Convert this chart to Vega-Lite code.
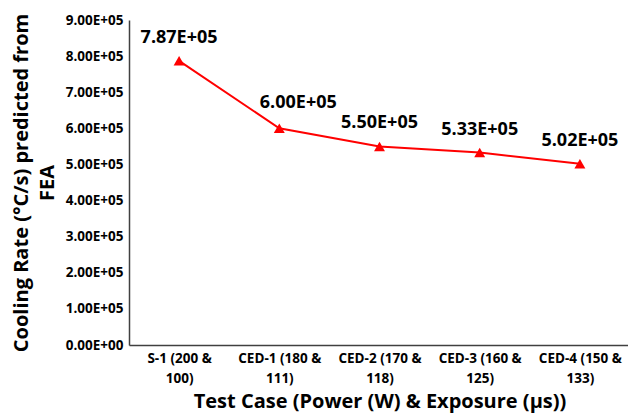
{
  "$schema": "https://vega.github.io/schema/vega-lite/v6.json",
  "width": 501,
  "height": 325,
  "autosize": {"type": "none"},
  "padding": {"left": 129, "top": 20, "right": 0, "bottom": 68},
  "background": "white",
  "config": {
    "view": {"stroke": null},
    "font": "Open Sans",
    "axis": {"grid": false, "domainColor": "#404040", "domainWidth": 1.5, "ticks": false,
      "labelFont": "Open Sans", "labelFontWeight": "bold", "labelColor": "black",
      "titleFont": "Open Sans", "titleFontWeight": "bold", "titleColor": "black"}
  },
  "data": {"values": [
    {"case": "S-1 (200 & 100)", "rate": 787000},
    {"case": "CED-1 (180 & 111)", "rate": 600000},
    {"case": "CED-2 (170 & 118)", "rate": 550000},
    {"case": "CED-3 (160 & 125)", "rate": 533000},
    {"case": "CED-4 (150 & 133)", "rate": 502000}
  ]},
  "transform": [
    {"calculate": "replace(upper(format(datum.rate, '.2e')), 'E+', 'E+0')", "as": "lbl"}
  ],
  "encoding": {
    "x": {"field": "case", "type": "ordinal", "sort": null,
      "axis": {"title": "Test Case (Power (W) & Exposure (µs))", "titleFontSize": 20, "titlePadding": 7,
        "labelAngle": 0, "labelFontSize": 13.5, "labelPadding": 6, "labelLineHeight": 20,
        "labelExpr": "split(replace(datum.label, '& ', '&|'), '|')"}},
    "y": {"field": "rate", "type": "quantitative",
      "scale": {"domain": [0, 900000]},
      "axis": {"title": ["Cooling Rate (°C/s) predicted from", "FEA"], "titleFontSize": 20, "titleLineHeight": 26,
        "titlePadding": 8, "values": [0, 100000, 200000, 300000, 400000, 500000, 600000, 700000, 800000, 900000],
        "labelFontSize": 13.5, "labelPadding": 6,
        "labelExpr": "replace(upper(format(datum.value, '.2e')), 'E+', 'E+0')"}}
  },
  "layer": [
    {"mark": {"type": "line", "color": "#FF0000", "strokeWidth": 2}},
    {"mark": {"type": "point", "shape": "triangle-up", "filled": true, "color": "#FF0000", "size": 120, "opacity": 1}},
    {"transform": [{"filter": "datum.case != 'CED-1 (180 & 111)'"}],
      "mark": {"type": "text", "dy": -23, "fontSize": 18, "fontWeight": "bold", "color": "black", "font": "Open Sans"},
      "encoding": {"text": {"field": "lbl"}}},
    {"transform": [{"filter": "datum.case == 'CED-1 (180 & 111)'"}],
      "mark": {"type": "text", "dy": -25, "dx": 19, "fontSize": 18, "fontWeight": "bold", "color": "black", "font": "Open Sans"},
      "encoding": {"text": {"field": "lbl"}}}
  ]
}
